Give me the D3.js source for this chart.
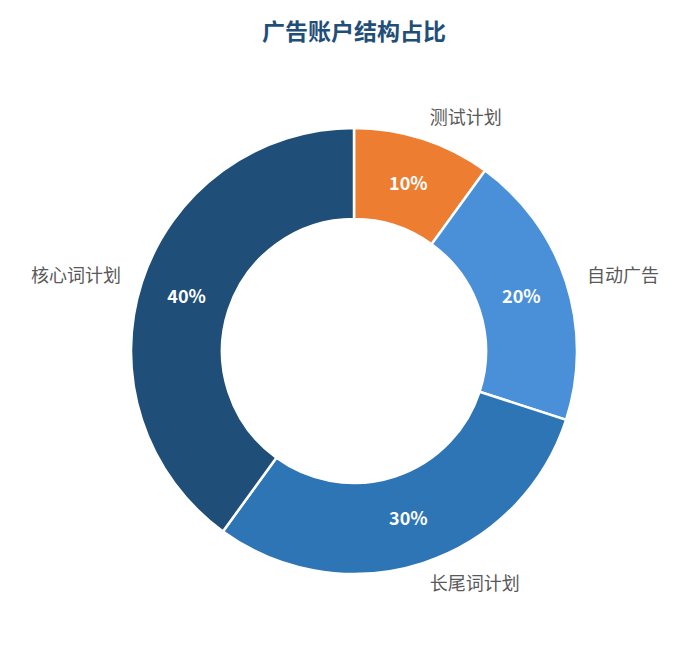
<!DOCTYPE html>
<html><head><meta charset="utf-8">
<script src="https://cdn.jsdelivr.net/npm/d3@7/dist/d3.min.js"></script>
<style>body{margin:0;background:#fff;font-family:"Noto Sans CJK SC","Noto Sans",sans-serif;}</style>
</head><body><svg id="c" width="686" height="645"></svg>
<script>
const categories=["测试计划","自动广告","长尾词计划","核心词计划"];
const values=[10,20,30,40];
const colors=["#ED7D31","#4A90D9","#2E75B6","#1F4E79"];
const title="广告账户结构占比";
const svg=d3.select("#c");
svg.append("text").attr("x",354).attr("y",40).attr("text-anchor","middle")
 .attr("font-size",23).attr("font-weight","bold").attr("fill","#1F4E79").text(title);
const g=svg.append("g").attr("transform","translate(354,351)");
const pie=d3.pie().sort(null).value(d=>d)(values);
const arc=d3.arc().innerRadius(132).outerRadius(223);
g.selectAll("path").data(pie).join("path").attr("d",arc)
 .attr("fill",(d,i)=>colors[i]).attr("stroke","#fff").attr("stroke-width",2.5);
const inner=d3.arc().innerRadius(176).outerRadius(176);
g.selectAll("text.p").data(pie).join("text").attr("class","p")
 .attr("transform",d=>`translate(${inner.centroid(d)})`).attr("text-anchor","middle").attr("dy","0.35em")
 .attr("fill","#fff").attr("font-weight","bold").attr("font-size",18).text(d=>d.data+"%");
const outer=d3.arc().innerRadius(245).outerRadius(245);
g.selectAll("text.l").data(pie).join("text").attr("class","l")
 .attr("transform",d=>`translate(${outer.centroid(d)})`)
 .attr("text-anchor",d=>(d.startAngle+d.endAngle)/2>Math.PI?"end":"start").attr("dy","0.35em")
 .attr("fill","#595959").attr("font-size",18).text((d,i)=>categories[i]);
</script></body></html>
